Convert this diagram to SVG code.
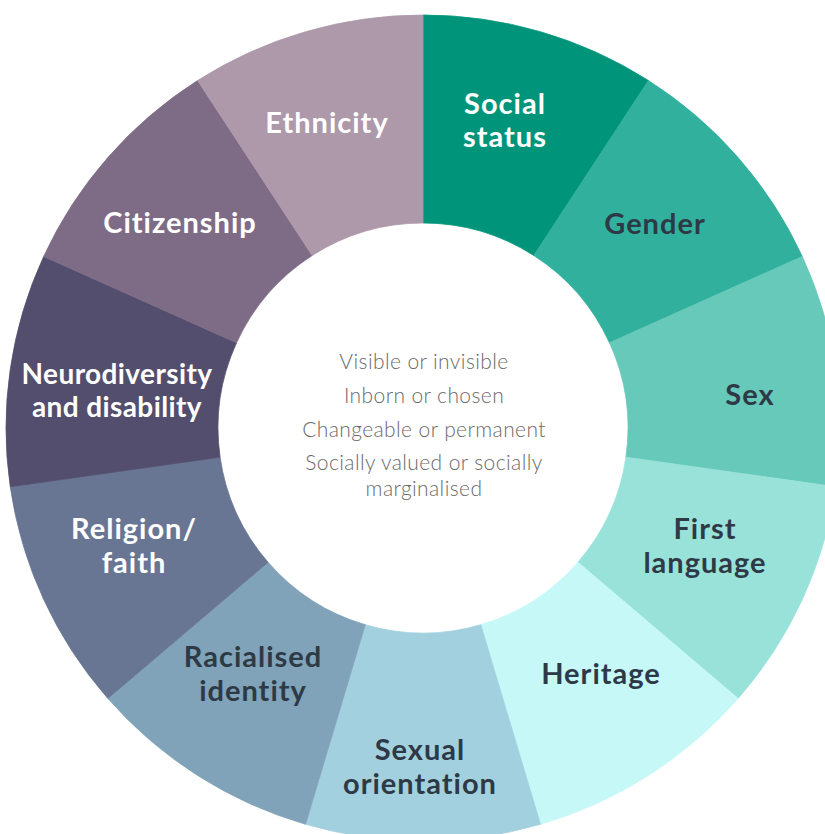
<svg xmlns="http://www.w3.org/2000/svg" width="825" height="834" viewBox="0 0 825 834">
<style>
.seg{stroke-width:0.8}
.lbl{font-family:Lato,"Open Sans","Liberation Sans",sans-serif;font-weight:700;font-size:29px;letter-spacing:1px;text-anchor:middle}
.nd{font-size:28px;letter-spacing:0.4px}
.lt{fill:#ffffff}
.dk{fill:#2d3a46}
.ctr{font-family:Lato,"Open Sans","Liberation Sans",sans-serif;font-weight:300;font-size:21px;letter-spacing:0.4px;text-anchor:middle;fill:#6a6a6a}
</style>
<rect width="825" height="834" fill="#ffffff"/>
<g id="social-status">
<path class="seg" fill="#00957a" stroke="#00957a" d="M423,15 A417,413 0 0 1 648.43,80.54 L533.82,255.53 A205,205 0 0 0 423,223 Z"/>
<text class="lbl lt" x="505" y="114">Social</text>
<text class="lbl lt" x="505" y="147">status</text>
</g>
<g id="gender">
<path class="seg" fill="#31b09d" stroke="#31b09d" d="M648.43,80.54 A417,413 0 0 1 802.30,256.44 L609.47,342.84 A205,205 0 0 0 533.82,255.53 Z"/>
<text class="lbl dk" x="655" y="234">Gender</text>
</g>
<g id="sex">
<path class="seg" fill="#67c9ba" stroke="#67c9ba" d="M802.30,256.44 A417,413 0 0 1 835.75,486.77 L625.91,457.17 A205,205 0 0 0 609.47,342.84 Z"/>
<text class="lbl dk" x="750" y="405">Sex</text>
</g>
<g id="first-language">
<path class="seg" fill="#99e2da" stroke="#99e2da" d="M835.75,486.77 A417,413 0 0 1 738.13,698.47 L577.92,562.25 A205,205 0 0 0 625.91,457.17 Z"/>
<text class="lbl dk" x="705" y="539">First</text>
<text class="lbl dk" x="705" y="573">language</text>
</g>
<g id="heritage">
<path class="seg" fill="#c6f8f8" stroke="#c6f8f8" d="M738.13,698.47 A417,413 0 0 1 540.47,824.27 L480.75,624.70 A205,205 0 0 0 577.92,562.25 Z"/>
<text class="lbl dk" x="601" y="684">Heritage</text>
</g>
<g id="sexual-orientation">
<path class="seg" fill="#a2d0de" stroke="#a2d0de" d="M540.47,824.27 A417,413 0 0 1 305.53,824.27 L365.25,624.70 A205,205 0 0 0 480.75,624.70 Z"/>
<text class="lbl dk" x="420" y="760">Sexual</text>
<text class="lbl dk" x="420" y="794">orientation</text>
</g>
<g id="racialised-identity">
<path class="seg" fill="#81a3b9" stroke="#81a3b9" d="M305.53,824.27 A417,413 0 0 1 107.87,698.47 L268.08,562.25 A205,205 0 0 0 365.25,624.70 Z"/>
<text class="lbl dk" x="253" y="667">Racialised</text>
<text class="lbl dk" x="253" y="701">identity</text>
</g>
<g id="religion-faith">
<path class="seg" fill="#687694" stroke="#687694" d="M107.87,698.47 A417,413 0 0 1 10.25,486.77 L220.09,457.17 A205,205 0 0 0 268.08,562.25 Z"/>
<text class="lbl lt" x="134" y="539">Religion/</text>
<text class="lbl lt" x="134" y="573">faith</text>
</g>
<g id="neurodiversity-disability">
<path class="seg" fill="#534e6d" stroke="#534e6d" d="M10.25,486.77 A417,413 0 0 1 43.70,256.44 L236.53,342.84 A205,205 0 0 0 220.09,457.17 Z"/>
<text class="lbl nd lt" x="117" y="384">Neurodiversity</text>
<text class="lbl nd lt" x="117" y="417">and disability</text>
</g>
<g id="citizenship">
<path class="seg" fill="#7e6c86" stroke="#7e6c86" d="M43.70,256.44 A417,413 0 0 1 197.57,80.54 L312.18,255.53 A205,205 0 0 0 236.53,342.84 Z"/>
<text class="lbl lt" x="180" y="233">Citizenship</text>
</g>
<g id="ethnicity">
<path class="seg" fill="#ad99a9" stroke="#ad99a9" d="M197.57,80.54 A417,413 0 0 1 423,15 L423,223 A205,205 0 0 0 312.18,255.53 Z"/>
<text class="lbl lt" x="327" y="133">Ethnicity</text>
</g>
<g id="centre">
<text class="ctr" x="424" y="369">Visible or invisible</text>
<text class="ctr" x="424" y="403">Inborn or chosen</text>
<text class="ctr" x="424" y="437">Changeable or permanent</text>
<text class="ctr" x="424" y="470">Socially valued or socially</text>
<text class="ctr" x="424" y="496">marginalised</text>
</g>
</svg>
